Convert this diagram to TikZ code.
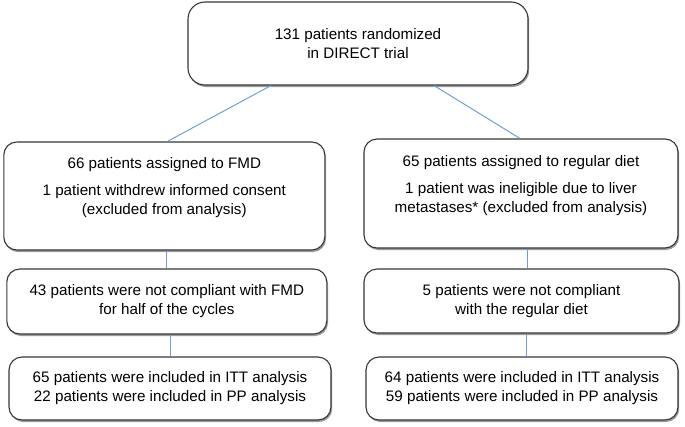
\documentclass[tikz,border=0pt]{standalone}
\usepackage{fontspec}
\setmainfont{Liberation Sans}
\usetikzlibrary{shadows}

\definecolor{linkblue}{RGB}{112,160,214}
\definecolor{boxline}{RGB}{55,55,55}

\begin{document}
\begin{tikzpicture}[x=1pt,y=-1pt]
\tikzstyle{stage}=[draw=boxline, line width=1.1pt, fill=white, rounded corners=13pt, align=center, inner sep=0pt, font=\fontsize{15.2}{19}\selectfont, drop shadow={shadow xshift=1.2pt, shadow yshift=-2pt, fill=black!60, opacity=0.65}]
\tikzstyle{link}=[draw=linkblue, line width=1pt]

% Fix the canvas to the size of the figure
\useasboundingbox (0,0) rectangle (685,426);

% Draw the randomization box
\node[stage, rounded corners=17pt, minimum width=340pt, minimum height=83pt] (rand) at (358,43.5) {131 patients randomized\\in DIRECT trial};

% Draw the assignment boxes
\node[stage, minimum width=321pt, minimum height=108pt] (fmd) at (164.3,196)
  {66 patients assigned to FMD\\[8pt]1 patient withdrew informed consent\\(excluded from analysis)\\[1pt]\mbox{}};
\node[stage, minimum width=314pt, minimum height=109pt] (rd) at (521,193.5)
  {65 patients assigned to regular diet\\[8pt]1 patient was ineligible due to liver\\metastases* (excluded from analysis)\\[1pt]\mbox{}};

% Draw the compliance boxes
\node[stage, minimum width=320pt, minimum height=65pt] (fmd-nc) at (166.8,301.5)
  {43 patients were not compliant with FMD\\for half of the cycles};
\node[stage, minimum width=315pt, minimum height=64pt] (rd-nc) at (521.5,301)
  {5 patients were not compliant\\with the regular diet};

% Draw the analysis boxes
\node[stage, minimum width=322pt, minimum height=63pt] (fmd-an) at (170,388.5)
  {65 patients were included in ITT analysis\\22 patients were included in PP analysis};
\node[stage, minimum width=312pt, minimum height=63pt] (rd-an) at (522,388.5)
  {64 patients were included in ITT analysis\\59 patients were included in PP analysis};

% Connect the randomization box with both arms
\path[link] ([xshift=-87pt]rand.south) edge ([xshift=3pt]fmd.north);
\path[link] ([xshift=76pt]rand.south) edge ([xshift=-1pt]rd.north);

% Connect the boxes down each arm
\draw[link] (fmd-nc.north) -- (fmd-nc.north |- fmd.south);
\draw[link] (fmd-an.north) -- (fmd-an.north |- fmd-nc.south);
\draw[link] ([xshift=5.5pt]rd-nc.north) -- ([xshift=5.5pt]rd-nc.north |- rd.south);
\draw[link] ([xshift=4pt]rd-an.north) -- ([xshift=4pt]rd-an.north |- rd-nc.south);

\end{tikzpicture}
\end{document}
